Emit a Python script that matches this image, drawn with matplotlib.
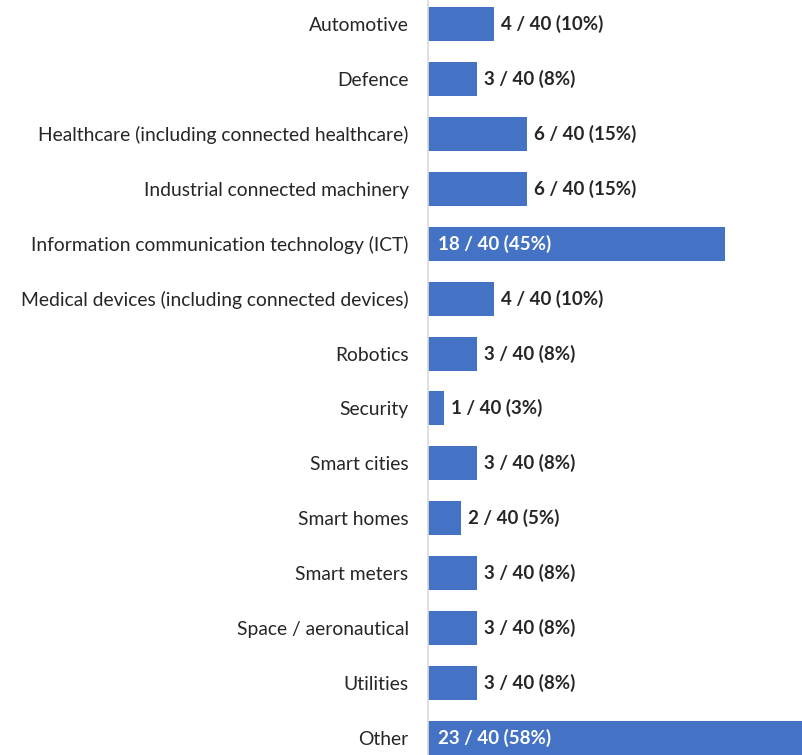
import matplotlib

matplotlib.use("Agg")

import matplotlib.pyplot as plt

categorias = [
    "Automotive",
    "Defence",
    "Healthcare (including connected healthcare)",
    "Industrial connected machinery",
    "Information communication technology (ICT)",
    "Medical devices (including connected devices)",
    "Robotics",
    "Security",
    "Smart cities",
    "Smart homes",
    "Smart meters",
    "Space / aeronautical",
    "Utilities",
    "Other",
]
respuestas = [4, 3, 6, 6, 18, 4, 3, 1, 3, 2, 3, 3, 3, 23]
porcentajes = [10, 8, 15, 15, 45, 10, 8, 3, 8, 5, 8, 8, 8, 58]
TOTAL = 40

plt.rcParams["font.family"] = ["Lato", "DejaVu Sans"]

fig = plt.figure(figsize=(8.02, 7.55), dpi=100)
ax = fig.add_axes([428 / 802, 0, 1 - 428 / 802, 1])

pos = list(range(len(categorias)))
ax.barh(pos, respuestas, height=0.62, color="#4472C4")

for i, (n, p) in enumerate(zip(respuestas, porcentajes)):
    texto = f"{n} / {TOTAL} ({p}%)"
    if n > 10:
        ax.annotate(texto, (0, i), xytext=(7, 0), textcoords="offset points",
                    va="center", ha="left", color="white", fontsize=13.5, fontweight="bold")
    else:
        ax.annotate(texto, (n, i), xytext=(5, 0), textcoords="offset points",
                    va="center", ha="left", color="#262626", fontsize=13.5, fontweight="bold")

ax.set_yticks(pos)
ax.set_yticklabels(categorias, fontsize=13.9, color="#262626")
ax.tick_params(axis="y", length=0, pad=14)
ax.set_xticks([])
ax.set_xlim(0, 374 / 16.5)
ax.set_ylim(13.31, -0.437)
for lado in ["top", "right", "bottom"]:
    ax.spines[lado].set_visible(False)
ax.spines["left"].set_color("#D9D9D9")
ax.spines["left"].set_linewidth(1.2)

fig.savefig("out.png", dpi=100)
plt.close(fig)
